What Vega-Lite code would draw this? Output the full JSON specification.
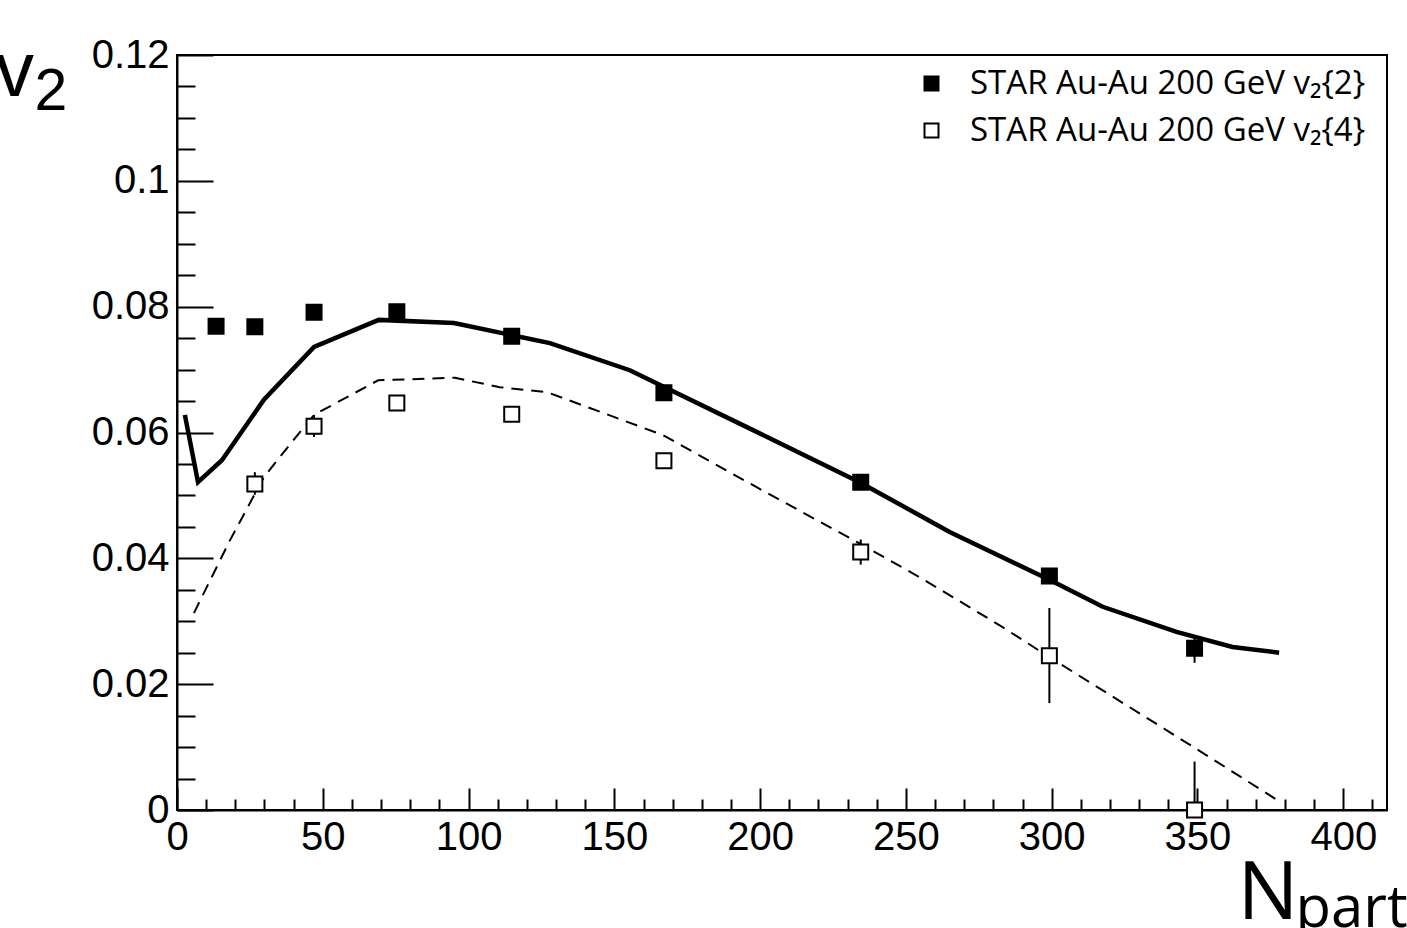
{
  "$schema": "https://vega.github.io/schema/vega-lite/v6.json",
  "width": 1210,
  "height": 755,
  "autosize": {"type": "none"},
  "padding": {"left": 177, "top": 55, "right": 20, "bottom": 118},
  "background": "white",
  "config": {
    "view": {"stroke": "black", "strokeWidth": 2},
    "axis": {
      "domainColor": "black", "domainWidth": 2,
      "tickColor": "black", "tickWidth": 2,
      "labelColor": "black", "titleColor": "black",
      "grid": false, "labelFlush": false, "labelOverlap": false, "labelBound": false
    }
  },
  "datasets": {
    "model": [
      {"curve": "v2{2}", "npart": 2.7, "v2": 0.0628},
      {"curve": "v2{2}", "npart": 7.2, "v2": 0.0521},
      {"curve": "v2{2}", "npart": 15.4, "v2": 0.0556},
      {"curve": "v2{2}", "npart": 29.8, "v2": 0.0652},
      {"curve": "v2{2}", "npart": 47, "v2": 0.0736},
      {"curve": "v2{2}", "npart": 69.2, "v2": 0.0779},
      {"curve": "v2{2}", "npart": 95, "v2": 0.0774},
      {"curve": "v2{2}", "npart": 127.9, "v2": 0.0742},
      {"curve": "v2{2}", "npart": 155.3, "v2": 0.0699},
      {"curve": "v2{2}", "npart": 198.8, "v2": 0.0601},
      {"curve": "v2{2}", "npart": 234.1, "v2": 0.0521},
      {"curve": "v2{2}", "npart": 265, "v2": 0.0442},
      {"curve": "v2{2}", "npart": 299.2, "v2": 0.0366},
      {"curve": "v2{2}", "npart": 317.5, "v2": 0.0323},
      {"curve": "v2{2}", "npart": 342.8, "v2": 0.0283},
      {"curve": "v2{2}", "npart": 362, "v2": 0.0259},
      {"curve": "v2{2}", "npart": 378, "v2": 0.025},
      {"curve": "v2{4}", "npart": 5.8, "v2": 0.0313},
      {"curve": "v2{4}", "npart": 18.2, "v2": 0.0429},
      {"curve": "v2{4}", "npart": 29.8, "v2": 0.0529},
      {"curve": "v2{4}", "npart": 39.4, "v2": 0.0585},
      {"curve": "v2{4}", "npart": 47, "v2": 0.0628},
      {"curve": "v2{4}", "npart": 69, "v2": 0.0683},
      {"curve": "v2{4}", "npart": 95.3, "v2": 0.0687},
      {"curve": "v2{4}", "npart": 110.7, "v2": 0.0672},
      {"curve": "v2{4}", "npart": 127, "v2": 0.0664},
      {"curve": "v2{4}", "npart": 166.6, "v2": 0.0596},
      {"curve": "v2{4}", "npart": 198.8, "v2": 0.0513},
      {"curve": "v2{4}", "npart": 234, "v2": 0.0424},
      {"curve": "v2{4}", "npart": 254.7, "v2": 0.037},
      {"curve": "v2{4}", "npart": 282, "v2": 0.0294},
      {"curve": "v2{4}", "npart": 299.2, "v2": 0.0243},
      {"curve": "v2{4}", "npart": 349, "v2": 0.0099},
      {"curve": "v2{4}", "npart": 379, "v2": 0.0011}
    ],
    "star": [
      {"series": "STAR Au-Au 200 GeV v₂{2}", "npart": 13.4, "v2": 0.0769, "lo": 0.0765, "hi": 0.0773},
      {"series": "STAR Au-Au 200 GeV v₂{2}", "npart": 26.7, "v2": 0.0768, "lo": 0.0764, "hi": 0.0772},
      {"series": "STAR Au-Au 200 GeV v₂{2}", "npart": 47, "v2": 0.0791, "lo": 0.0783, "hi": 0.0799},
      {"series": "STAR Au-Au 200 GeV v₂{2}", "npart": 75.4, "v2": 0.0792, "lo": 0.0783, "hi": 0.0801},
      {"series": "STAR Au-Au 200 GeV v₂{2}", "npart": 114.8, "v2": 0.0753, "lo": 0.0747, "hi": 0.0759},
      {"series": "STAR Au-Au 200 GeV v₂{2}", "npart": 167, "v2": 0.0663, "lo": 0.0658, "hi": 0.0668},
      {"series": "STAR Au-Au 200 GeV v₂{2}", "npart": 234.5, "v2": 0.0521, "lo": 0.0516, "hi": 0.0526},
      {"series": "STAR Au-Au 200 GeV v₂{2}", "npart": 299.2, "v2": 0.0372, "lo": 0.0363, "hi": 0.0381},
      {"series": "STAR Au-Au 200 GeV v₂{2}", "npart": 349, "v2": 0.0257, "lo": 0.0234, "hi": 0.0278},
      {"series": "STAR Au-Au 200 GeV v₂{4}", "npart": 26.7, "v2": 0.0518, "lo": 0.0501, "hi": 0.0537},
      {"series": "STAR Au-Au 200 GeV v₂{4}", "npart": 47, "v2": 0.061, "lo": 0.0593, "hi": 0.0628},
      {"series": "STAR Au-Au 200 GeV v₂{4}", "npart": 75.4, "v2": 0.0647, "lo": 0.0641, "hi": 0.0653},
      {"series": "STAR Au-Au 200 GeV v₂{4}", "npart": 114.8, "v2": 0.0629, "lo": 0.0624, "hi": 0.0634},
      {"series": "STAR Au-Au 200 GeV v₂{4}", "npart": 167, "v2": 0.0555, "lo": 0.055, "hi": 0.056},
      {"series": "STAR Au-Au 200 GeV v₂{4}", "npart": 234.5, "v2": 0.041, "lo": 0.039, "hi": 0.043},
      {"series": "STAR Au-Au 200 GeV v₂{4}", "npart": 299.2, "v2": 0.0245, "lo": 0.017, "hi": 0.0321},
      {"series": "STAR Au-Au 200 GeV v₂{4}", "npart": 349, "v2": 0.0, "lo": -0.0077, "hi": 0.0077}
    ]
  },
  "resolve": {"axis": {"x": "independent", "y": "independent"}},
  "layer": [
    {
      "data": {"name": "model"},
      "transform": [{"filter": "datum.curve == 'v2{2}'"}],
      "mark": {"type": "line", "color": "black", "strokeWidth": 4.5, "clip": true},
      "encoding": {
        "x": {
          "field": "npart", "type": "quantitative",
          "scale": {"domain": [0, 415], "nice": false, "zero": false},
          "axis": {
            "values": [0,10,20,30,40,50,60,70,80,90,100,110,120,130,140,150,160,170,180,190,200,210,220,230,240,250,260,270,280,290,300,310,320,330,340,350,360,370,380,390,400,410],
            "labelExpr": "datum.value % 50 == 0 ? datum.label : ''",
            "tickSize": {"condition": {"test": "datum.value % 50 == 0", "value": -22}, "value": -11},
            "labelPadding": 29,
            "labelFont": "Liberation Sans", "labelFontSize": 40,
            "title": "N", "titleFont": "Open Sans", "titleFontSize": 81, "titleFontWeight": "normal",
            "titleAlign": "left", "titleBaseline": "alphabetic", "titleX": 1060, "titleY": 108
          }
        },
        "y": {
          "field": "v2", "type": "quantitative",
          "scale": {"domain": [0, 0.12], "nice": false, "zero": false},
          "axis": {
            "values": [0,0.005,0.01,0.015,0.02,0.025,0.03,0.035,0.04,0.045,0.05,0.055,0.06,0.065,0.07,0.075,0.08,0.085,0.09,0.095,0.1,0.105,0.11,0.115,0.12],
            "labelExpr": "round(datum.value*1000) % 20 == 0 ? '' + round(datum.value*100)/100 : ''",
            "tickSize": {"condition": {"test": "round(datum.value*1000) % 20 == 0", "value": -36}, "value": -18},
            "labelPadding": 44,
            "labelFont": "Liberation Sans", "labelFontSize": 40,
            "title": "v", "titleFont": "Liberation Sans", "titleFontSize": 77, "titleFontWeight": "normal",
            "titleAngle": 0, "titleAlign": "left", "titleBaseline": "alphabetic", "titleX": -182, "titleY": 40
          }
        }
      }
    },
    {
      "data": {"name": "model"},
      "transform": [{"filter": "datum.curve == 'v2{4}'"}],
      "mark": {"type": "line", "color": "black", "strokeWidth": 2, "strokeDash": [12, 8], "clip": true},
      "encoding": {
        "x": {"field": "npart", "type": "quantitative", "scale": {"domain": [0, 415], "nice": false, "zero": false}, "axis": null},
        "y": {"field": "v2", "type": "quantitative", "scale": {"domain": [0, 0.12], "nice": false, "zero": false}, "axis": null}
      }
    },
    {
      "data": {"name": "star"},
      "mark": {"type": "rule", "color": "black", "strokeWidth": 2, "clip": true},
      "encoding": {
        "x": {
          "field": "npart", "type": "quantitative", "scale": {"domain": [0, 415], "nice": false, "zero": false},
          "axis": {
            "orient": "top", "domain": false, "ticks": false, "labels": false,
            "title": "part", "titleFont": "Open Sans", "titleFontSize": 58, "titleFontWeight": "normal",
            "titleAlign": "left", "titleBaseline": "alphabetic", "titleX": 1118, "titleY": 871
          }
        },
        "y": {
          "field": "lo", "type": "quantitative", "scale": {"domain": [0, 0.12], "nice": false, "zero": false},
          "axis": {
            "orient": "right", "domain": false, "ticks": false, "labels": false,
            "title": "2", "titleFont": "Liberation Sans", "titleFontSize": 59, "titleFontWeight": "normal",
            "titleAngle": 0, "titleAlign": "left", "titleBaseline": "alphabetic", "titleX": -1353, "titleY": 54
          }
        },
        "y2": {"field": "hi"}
      }
    },
    {
      "data": {"name": "star"},
      "mark": {"type": "point", "shape": "square", "size": 225, "filled": true, "stroke": "black", "strokeWidth": 2, "opacity": 1},
      "encoding": {
        "x": {"field": "npart", "type": "quantitative", "scale": {"domain": [0, 415], "nice": false, "zero": false}, "axis": null},
        "y": {"field": "v2", "type": "quantitative", "scale": {"domain": [0, 0.12], "nice": false, "zero": false}, "axis": null},
        "fill": {
          "field": "series", "type": "nominal",
          "scale": {"domain": ["STAR Au-Au 200 GeV v₂{2}", "STAR Au-Au 200 GeV v₂{4}"], "range": ["black", "white"]},
          "legend": {
            "orient": "none", "legendX": 738, "legendY": 12, "title": null,
            "symbolType": "square", "symbolSize": 196, "symbolStrokeColor": "black", "symbolStrokeWidth": 2, "symbolOpacity": 1,
            "labelFont": "Open Sans", "labelFontSize": 33, "labelColor": "black", "labelOffset": 22,
            "rowPadding": 13, "padding": 0, "labelLimit": 600
          }
        }
      }
    }
  ]
}
